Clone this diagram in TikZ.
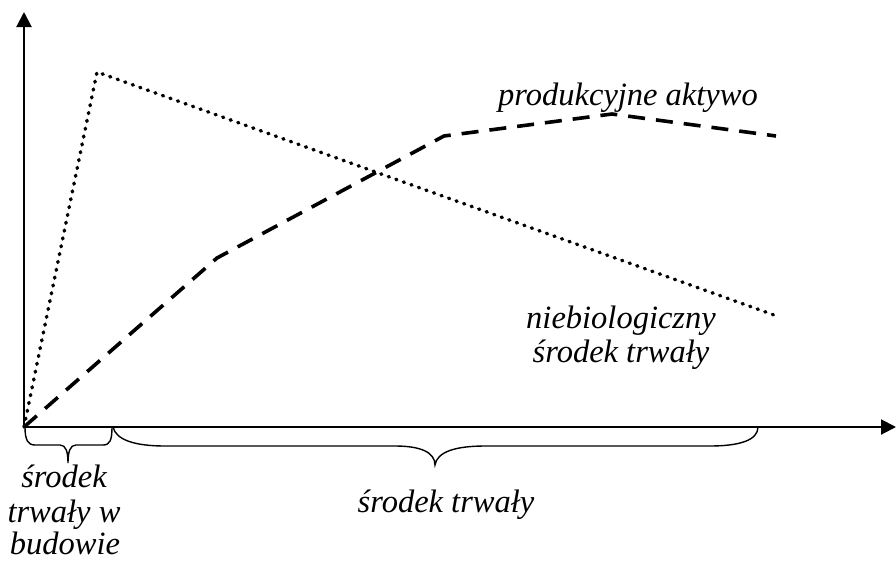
\documentclass[tikz,border=0pt]{standalone}
\usepackage{fontspec}
\setmainfont{Liberation Serif}
\usetikzlibrary{arrows.meta}
\begin{document}
\begin{tikzpicture}[x=1pt,y=-1pt,
  axis/.style={line width=2pt,-{Triangle[length=15pt,width=15pt]}},
  plotdot/.style={line width=3.5pt,line cap=round,dash pattern=on 1pt off 7pt},
  plotdash/.style={line width=3.6pt,dash pattern=on 17pt off 11pt},
  bracestroke/.style={line width=1.4pt},
  lbl/.style={font=\fontsize{32.5}{35}\selectfont\itshape,inner sep=0pt,anchor=base}]
  \useasboundingbox (0,0) rectangle (896,562);

  % axes
  \coordinate (O) at (24,427);
  \coordinate (ytip) at (24,12);
  \coordinate (xtip) at (896,427);
  \draw[axis] (O) -- (ytip);
  \draw[axis] (O) -- (xtip);

  % non-biological fixed asset
  \coordinate (d1) at (97,72);
  \coordinate (d2) at (774,315);
  \draw[plotdot] (O) -- (d1) -- (d2);

  % productive asset
  \coordinate (p1) at (217,258);
  \coordinate (p2) at (444,136);
  \coordinate (p3) at (612,114);
  \coordinate (p4) at (776,136);
  \draw[plotdash] (O) -- (p1) -- (p2) -- (p3) -- (p4);

  % brace: asset under construction
  \coordinate (sb1) at (25,427);
  \coordinate (sbtip) at (68,463);
  \coordinate (sb2) at (112,427);
  \draw[bracestroke] (sb1) .. controls (25,440) and (28,445) .. (35,445) -- (60,445)
    .. controls (66,445) and (68,452) .. (sbtip)
    .. controls (68,452) and (70,445) .. (76,445) -- (103,445)
    .. controls (110,445) and (112,440) .. (sb2);

  % brace: fixed asset
  \coordinate (bb1) at (113,427);
  \coordinate (bbtip) at (435,465);
  \coordinate (bb2) at (758,427);
  \draw[bracestroke] (bb1) .. controls (116,440) and (135,446) .. (165,446) -- (395,446)
    .. controls (420,446) and (435,452) .. (bbtip)
    .. controls (437,452) and (455,446) .. (485,446) -- (710,446)
    .. controls (740,446) and (758,440) .. (bb2);

  % labels
  \node[lbl,anchor=base west] (prod) at (498,105) {produkcyjne aktywo};
  \node[lbl] (nb1) at (621,328) {niebiologiczny};
  \node[lbl] (nb2) at (621,362) {środek trwały};
  \node[lbl] (st) at (446,512) {środek trwały};
  \node[lbl] (bu1) at (64,487) {środek};
  \node[lbl] (bu2) at (64,522) {trwały w};
  \node[lbl] (bu3) at (65,554) {budowie};
\end{tikzpicture}
\end{document}
